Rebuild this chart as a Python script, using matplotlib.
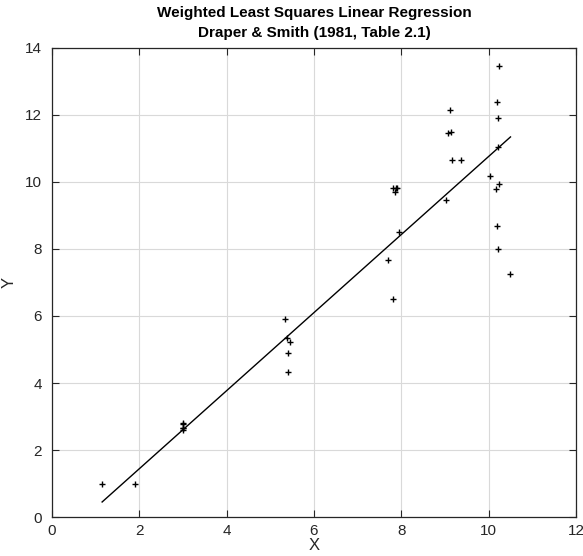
import numpy as np
import matplotlib
matplotlib.use('Agg')
import matplotlib.pyplot as plt

plt.rcParams['font.family'] = ['Liberation Sans', 'DejaVu Sans']

# Draper & Smith (1981), Table 2.1
x = [1.15, 1.90, 3.00, 3.00, 3.00, 3.00, 3.00, 5.34, 5.38, 5.40, 5.40, 5.45,
     7.70, 7.80, 7.81, 7.85, 7.87, 7.91, 7.94, 9.03, 9.07, 9.11, 9.14, 9.16,
     9.37, 10.17, 10.18, 10.22, 10.22, 10.22, 10.18, 10.50, 10.23, 10.03, 10.23]
y = [0.99, 0.98, 2.60, 2.67, 2.66, 2.78, 2.80, 5.92, 5.35, 4.33, 4.89, 5.21,
     7.68, 9.81, 6.52, 9.71, 9.82, 9.81, 8.50, 9.47, 11.45, 12.14, 11.50, 10.65,
     10.64, 9.78, 12.39, 11.03, 8.00, 11.90, 8.68, 7.25, 13.46, 10.19, 9.93]
w = [1.24028, 2.18224, 7.84930, 7.84930, 7.84930, 7.84930, 7.84930, 7.43652,
     6.99309, 6.78574, 6.78574, 6.30514, 0.89204, 0.84420, 0.83963, 0.82171,
     0.81296, 0.79588, 0.78342, 0.47385, 0.46621, 0.45878, 0.45327, 0.44968,
     0.41435, 0.31182, 0.31079, 0.30672, 0.30672, 0.30672, 0.31079, 0.28033,
     0.30571, 0.32680, 0.30571]

xa, ya, wa = np.array(x), np.array(y), np.array(w)
# weighted least squares fit
A = np.column_stack([xa, np.ones_like(xa)]) * np.sqrt(wa)[:, None]
b = np.linalg.lstsq(A, ya * np.sqrt(wa), rcond=None)[0]
xs = np.sort(xa)

fig = plt.figure(figsize=(5.83, 5.56), dpi=100)
ax = fig.add_axes([0.089, 0.070, 0.899, 0.844])

ax.plot(xa, ya, '+', color='black', markersize=4.5, markeredgewidth=1.0)
ax.plot(xs, b[0] * xs + b[1], '-', color='black', linewidth=1.0)

ax.set_xlim(0, 12)
ax.set_ylim(0, 14)
ax.set_xticks(range(0, 13, 2))
ax.set_yticks(range(0, 15, 2))
ax.grid(True, color='#d9d9d9', linewidth=0.8)
ax.set_axisbelow(True)
ax.tick_params(direction='in', top=True, right=True, length=5,
               labelsize=11, colors='#262626', width=0.8)
ax.tick_params(axis='x', pad=5)
ax.tick_params(axis='y', pad=7)
for s in ax.spines.values():
    s.set_color('#262626')
    s.set_linewidth(0.9)

ax.set_xlabel('X', fontsize=12, labelpad=0, color='#262626')
ax.set_ylabel('Y', fontsize=12, labelpad=6, color='#262626')
ax.set_title('Weighted Least Squares Linear Regression\nDraper & Smith (1981, Table 2.1)',
             fontsize=11, fontweight='bold', linespacing=1.5, pad=8)

plt.savefig('out.png')
